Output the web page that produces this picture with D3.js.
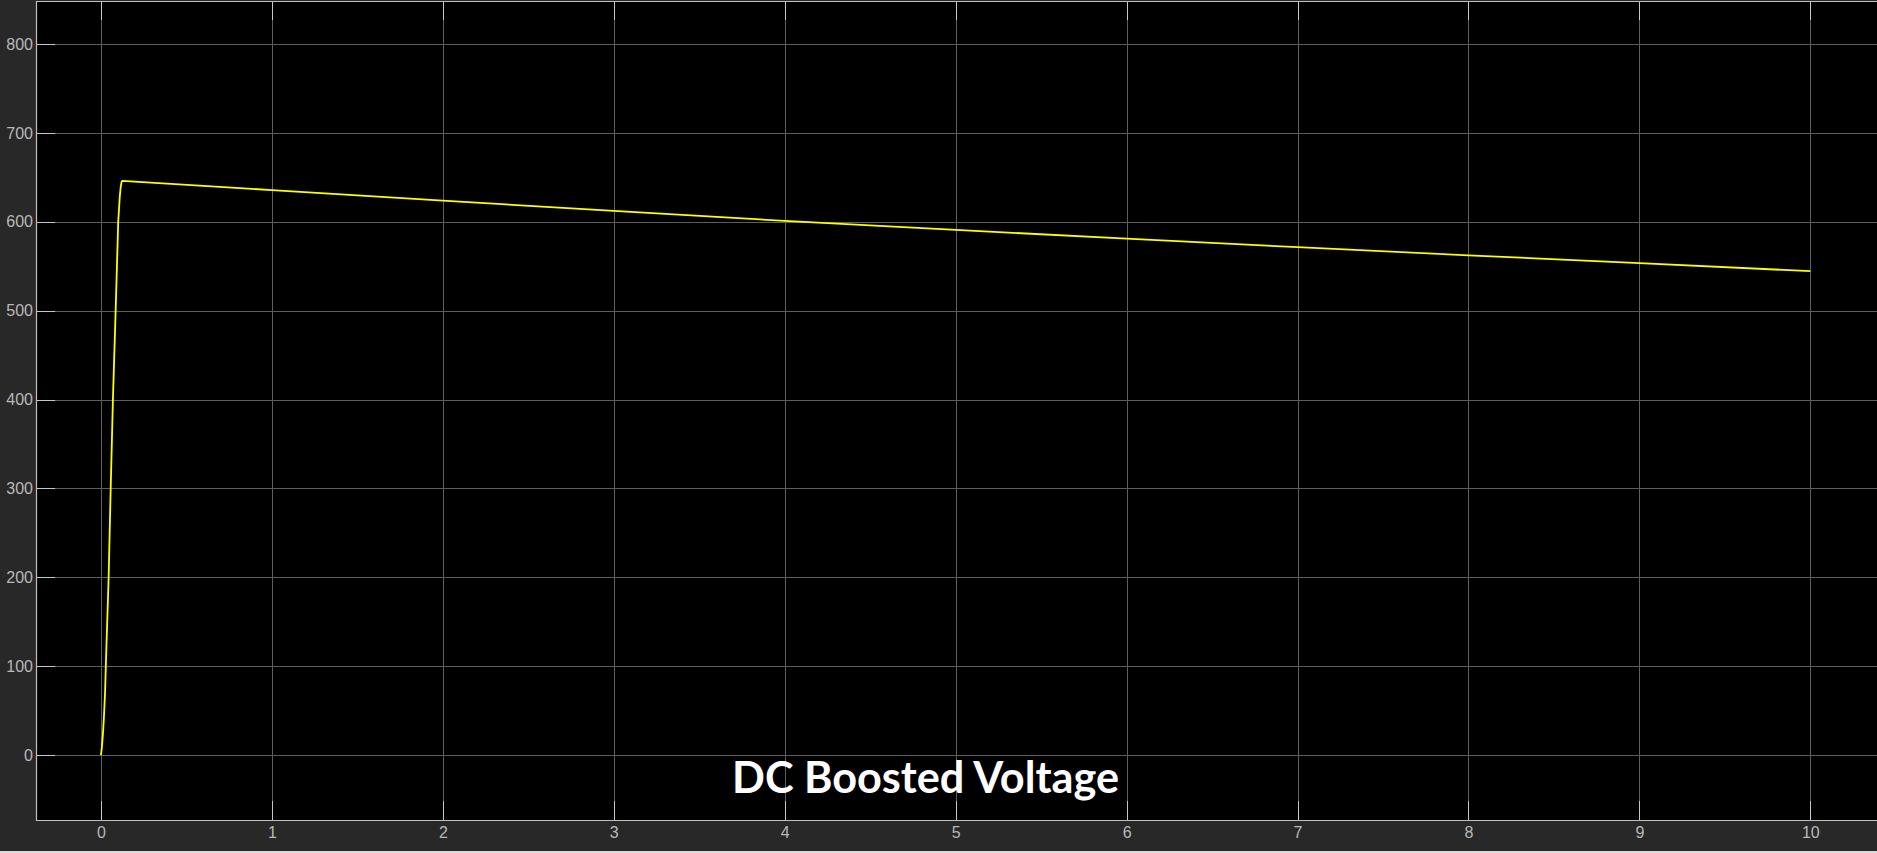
<!DOCTYPE html>
<html>
<head>
<meta charset="utf-8">
<script src="https://cdn.jsdelivr.net/npm/d3@7/dist/d3.min.js"></script>
<style>
  html, body { margin: 0; padding: 0; background: #282828; }
  svg { display: block; }
</style>
</head>
<body>
<svg id="chart" width="1877" height="853"></svg>
<script>
// ---- data ----
const timeValues = [0, 0.006, 0.012, 0.018, 0.024, 0.030, 0.045, 0.057, 0.070, 0.086, 0.101, 0.110, 0.116, 0.121, 0.125,
                    1, 2, 3, 4, 5, 6, 7, 8, 9, 10];
const voltageValues = [0, 10, 25, 45, 70, 110, 200, 300, 400, 500, 600, 628, 640, 645, 646,
                       635.6, 623.8, 612.2, 601.0, 590.8, 581.0, 571.4, 562.3, 553.4, 544.4];
const xTicks = [0, 1, 2, 3, 4, 5, 6, 7, 8, 9, 10];
const yTicks = [0, 100, 200, 300, 400, 500, 600, 700, 800];
const titleText = "DC Boosted Voltage";

// ---- layout ----
const W = 1877, H = 853;
const plot = { left: 36, top: 1, right: 1877, bottom: 820 };

const svg = d3.select("#chart");

const x = d3.scaleLinear().domain([-0.38, 10.39]).range([plot.left, plot.right]);
const y = d3.scaleLinear().domain([-73.1, 848.4]).range([plot.bottom, plot.top]);

// outer background
svg.append("rect").attr("x", 0).attr("y", 0).attr("width", W).attr("height", H).attr("fill", "#282828");
// bottom light strip
svg.append("rect").attr("x", 0).attr("y", 851).attr("width", W).attr("height", 2).attr("fill", "#d9d9d9");

// plot background
svg.append("rect")
  .attr("x", plot.left).attr("y", plot.top)
  .attr("width", plot.right - plot.left + 10).attr("height", plot.bottom - plot.top)
  .attr("fill", "#000000");

// grid lines
const grid = svg.append("g");
grid.selectAll("line.vx").data(xTicks).join("line")
  .attr("x1", d => Math.round(x(d)) + 0.5).attr("x2", d => Math.round(x(d)) + 0.5)
  .attr("y1", plot.top).attr("y2", plot.bottom)
  .attr("stroke", "#5e5e5e").attr("stroke-width", 1);
grid.selectAll("line.hy").data(yTicks).join("line")
  .attr("y1", d => Math.round(y(d)) + 0.5).attr("y2", d => Math.round(y(d)) + 0.5)
  .attr("x1", plot.left).attr("x2", plot.right)
  .attr("stroke", "#5e5e5e").attr("stroke-width", 1);

// axes (inward ticks, labels outside)
const labelFont = "Liberation Sans, Arial, sans-serif";
const xAxisBottom = d3.axisBottom(x).tickValues(xTicks).tickSize(0).tickPadding(7).tickFormat(d3.format("d"));
const gxb = svg.append("g").attr("transform", `translate(0,${plot.bottom})`).call(xAxisBottom);
gxb.select(".domain").remove();
gxb.selectAll("text").attr("fill", "#b8b8b8").style("font-family", labelFont).style("font-size", "16px");

const yAxisLeft = d3.axisLeft(y).tickValues(yTicks).tickSize(0).tickPadding(3).tickFormat(d3.format("d"));
const gyl = svg.append("g").attr("transform", `translate(${plot.left},0)`).call(yAxisLeft);
gyl.select(".domain").remove();
gyl.selectAll("text").attr("fill", "#b8b8b8").style("font-family", labelFont).style("font-size", "16px");

// inner tick marks
const tickLen = 19;
const tm = svg.append("g").attr("stroke", "#c8c8c8").attr("stroke-width", 1);
tm.selectAll("line.tb").data(xTicks).join("line")
  .attr("x1", d => Math.round(x(d)) + 0.5).attr("x2", d => Math.round(x(d)) + 0.5)
  .attr("y1", plot.bottom).attr("y2", plot.bottom - tickLen);
tm.selectAll("line.tt").data(xTicks).join("line")
  .attr("x1", d => Math.round(x(d)) + 0.5).attr("x2", d => Math.round(x(d)) + 0.5)
  .attr("y1", plot.top).attr("y2", plot.top + tickLen);
tm.selectAll("line.tl").data(yTicks).join("line")
  .attr("y1", d => Math.round(y(d)) + 0.5).attr("y2", d => Math.round(y(d)) + 0.5)
  .attr("x1", plot.left).attr("x2", plot.left + tickLen);

// plot border
svg.append("path")
  .attr("d", `M${W},${plot.top + 0.5}H${plot.left + 0.5}V${plot.bottom + 0.5}H${W}`)
  .attr("fill", "none").attr("stroke", "#c0c0c0").attr("stroke-width", 1.2);

// data line
const line = d3.line().x((d, i) => x(timeValues[i])).y(d => y(d)).curve(d3.curveLinear);
svg.append("path")
  .datum(voltageValues)
  .attr("d", line)
  .attr("fill", "none")
  .attr("stroke", "#ffff00")
  .attr("stroke-width", 1.8)
  .attr("stroke-linejoin", "round");

// title (inside plot, bottom)
svg.append("text")
  .attr("x", 925.5).attr("y", 793)
  .attr("text-anchor", "middle")
  .attr("fill", "#ffffff")
  .style("font-family", "Lato, 'Open Sans', sans-serif")
  .style("font-weight", "bold")
  .style("font-size", "43px")
  .attr("textLength", 387)
  .attr("lengthAdjust", "spacingAndGlyphs")
  .text(titleText);
</script>
</body>
</html>
